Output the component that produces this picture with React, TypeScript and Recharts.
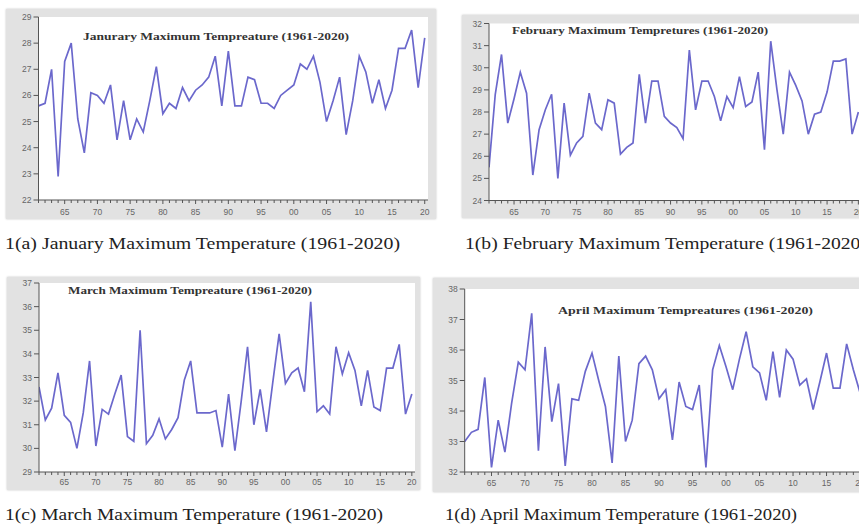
import { CartesianGrid, Line, LineChart, ReferenceArea, XAxis, YAxis } from "recharts";

// years 1961..2020 (x categories)
const YEARS = Array.from({ length: 60 }, (_, i) => 1961 + i);

// monthly maximum temperatures, 1961..2020
const JAN = [
  25.6, 25.7, 27.0, 22.9, 27.3, 28.0, 25.1, 23.8, 26.1, 26.0,
  25.7, 26.4, 24.3, 25.8, 24.3, 25.1, 24.6, 25.8, 27.1, 25.3,
  25.7, 25.5, 26.3, 25.8, 26.2, 26.4, 26.7, 27.5, 25.6, 27.7,
  25.6, 25.6, 26.7, 26.6, 25.7, 25.7, 25.5, 26.0, 26.2, 26.4,
  27.2, 27.0, 27.5, 26.5, 25.0, 25.8, 26.7, 24.5, 25.8, 27.5,
  26.9, 25.7, 26.6, 25.5, 26.2, 27.8, 27.8, 28.5, 26.3, 28.2,
];
const FEB = [
  25.5, 28.8, 30.6, 27.5, 28.6, 29.8, 28.85, 25.15, 27.2, 28.1,
  28.8, 25.0, 28.4, 26.05, 26.6, 26.9, 28.85, 27.5, 27.2, 28.55,
  28.4, 26.1, 26.4, 26.6, 29.7, 27.5, 29.4, 29.4, 27.8, 27.5,
  27.3, 26.8, 30.8, 28.1, 29.4, 29.4, 28.7, 27.6, 28.7, 28.2,
  29.6, 28.25, 28.45, 29.8, 26.3, 31.2, 29.0, 27.0, 29.8, 29.2,
  28.5, 27.0, 27.9, 28.0, 28.9, 30.3, 30.3, 30.4, 27.0, 28.0,
];
const MAR = [
  32.6, 31.2, 31.7, 33.2, 31.4, 31.1, 30.0, 31.5, 33.7, 30.1,
  31.65, 31.45, 32.3, 33.1, 30.5, 30.3, 35.0, 30.2, 30.55, 31.25,
  30.4, 30.8, 31.3, 32.9, 33.7, 31.5, 31.5, 31.5, 31.6, 30.05,
  32.3, 29.9, 32.0, 34.3, 31.0, 32.5, 30.7, 32.8, 34.85, 32.75,
  33.2, 33.4, 32.4, 36.2, 31.55, 31.8, 31.45, 34.3, 33.15, 34.05,
  33.3, 31.8, 33.3, 31.75, 31.6, 33.4, 33.4, 34.4, 31.45, 32.3,
];
const APR = [
  33.0, 33.3, 33.4, 35.1, 32.15, 33.7, 32.65, 34.25, 35.6, 35.35,
  37.2, 32.7, 36.1, 33.65, 34.9, 32.2, 34.4, 34.35, 35.3, 35.9,
  35.0, 34.15, 32.3, 35.8, 33.0, 33.7, 35.55, 35.8, 35.35, 34.4,
  34.7, 33.05, 34.95, 34.15, 34.05, 34.85, 32.15, 35.35, 36.15, 35.45,
  34.7, 35.7, 36.6, 35.45, 35.25, 34.35, 35.95, 34.45, 36.0, 35.7,
  34.85, 35.05, 34.05, 34.95, 35.9, 34.75, 34.75, 36.2, 35.35, 34.6,
];

const JAN_TICKS = [22, 23, 24, 25, 26, 27, 28, 29];
const FEB_TICKS = [24, 25, 26, 27, 28, 29, 30, 31, 32];
const MAR_TICKS = [29, 30, 31, 32, 33, 34, 35, 36, 37];
const APR_TICKS = [32, 33, 34, 35, 36, 37, 38];

const LINE = "#6b68cc";
const AXIS = "#555";
const LABEL = "#666";

function yearTick(labelDy: number) {
  return (props: any) => {
    const { x, y, payload } = props;
    const yr = payload.value as number;
    const major = yr % 5 === 0;
    return (
      <g>
        <line x1={x} x2={x} y1={y} y2={y + (major ? 4 : 3)} stroke={AXIS} strokeWidth={1} />
        {major && (
          <text x={x} y={y + labelDy} textAnchor="middle" fontSize={8.5} fill={LABEL} fontFamily="Liberation Sans">
            {String(yr % 100).padStart(2, "0")}
          </text>
        )}
      </g>
    );
  };
}

function Panel({
  values,
  yTicks,
  box,
  margin,
  xHeight,
  labelDy,
}: {
  values: number[];
  yTicks: number[];
  box: { left: number; top: number; width: number; height: number };
  margin: { top: number; right: number; bottom: number; left: number };
  xHeight: number;
  labelDy: number;
}) {
  const data = YEARS.map((year, i) => ({ year, v: values[i] }));
  return (
    <div style={{ position: "absolute", ...box }}>
      <LineChart width={box.width} height={box.height} data={data} margin={margin}>
        <CartesianGrid horizontal={false} vertical={false} fill="#fff" />
        <XAxis
          dataKey="year"
          type="number"
          domain={[1961, 2020.5]}
          ticks={YEARS}
          interval={0}
          allowDataOverflow
          height={xHeight}
          tickSize={0}
          tickMargin={0}
          tickLine={false}
          tick={yearTick(labelDy)}
          axisLine={{ stroke: AXIS }}
        />
        <YAxis
          type="number"
          domain={[yTicks[0], yTicks[yTicks.length - 1]]}
          ticks={yTicks}
          interval={0}
          width={28}
          tickSize={5}
          tickMargin={2}
          tick={{ fontSize: 8.5, fill: LABEL, fontFamily: "Liberation Sans" }}
          tickLine={{ stroke: AXIS }}
          axisLine={{ stroke: AXIS }}
        />
        <ReferenceArea fill="none" stroke="#8a8a8a" strokeWidth={1} />
        <Line
          type="linear"
          dataKey="v"
          stroke={LINE}
          strokeWidth={1.7}
          dot={false}
          isAnimationActive={false}
        />
      </LineChart>
    </div>
  );
}

const frame = (left: number, top: number, width: number, height: number) => (
  <div
    style={{
      position: "absolute",
      left,
      top,
      width,
      height,
      background: "#e2e2e2",
      boxShadow: "0 0 2px #c4c4c4",
    }}
  />
);

export default function App() {
  const serif = "Liberation Serif";
  return (
    <div
      style={{
        position: "absolute",
        left: 0,
        top: 0,
        width: 859,
        height: 524,
        overflow: "hidden",
        background: "#fff",
      }}
    >
      {frame(6, 9, 430, 210)}
      {frame(462, 15, 420, 203)}
      {frame(7, 277, 413, 213)}
      {frame(433, 278, 440, 214)}

      <Panel
        values={JAN}
        yTicks={JAN_TICKS}
        box={{ left: 6, top: 9, width: 430, height: 210 }}
        margin={{ top: 8, right: 8, bottom: 1, left: 4.5 }}
        xHeight={18}
        labelDy={15}
      />
      <Panel
        values={FEB}
        yTicks={FEB_TICKS}
        box={{ left: 462, top: 15, width: 420, height: 203 }}
        margin={{ top: 8.5, right: 20.5, bottom: 0.5, left: -1 }}
        xHeight={17}
        labelDy={14.5}
      />
      <Panel
        values={MAR}
        yTicks={MAR_TICKS}
        box={{ left: 7, top: 277, width: 413, height: 213 }}
        margin={{ top: 6, right: 5, bottom: 0, left: 4 }}
        xHeight={18}
        labelDy={13}
      />
      <Panel
        values={APR}
        yTicks={APR_TICKS}
        box={{ left: 433, top: 278, width: 440, height: 214 }}
        margin={{ top: 11, right: 9.6, bottom: 0, left: 3.7 }}
        xHeight={20}
        labelDy={14}
      />

      <svg
        width={859}
        height={524}
        style={{ position: "absolute", left: 0, top: 0, pointerEvents: "none" }}
      >
        <g fontFamily={serif} fontWeight="bold" fill="#333">
          <text x={83} y={40} fontSize={11} textLength={266} lengthAdjust="spacingAndGlyphs">
            Janurary Maximum Tempreature (1961-2020)
          </text>
          <text x={512} y={34} fontSize={10} textLength={256} lengthAdjust="spacingAndGlyphs">
            February Maximum Tempretures (1961-2020)
          </text>
          <text x={68} y={294} fontSize={10.5} textLength={244} lengthAdjust="spacingAndGlyphs">
            March Maximum Tempreature (1961-2020)
          </text>
          <text x={558} y={314} fontSize={10.5} textLength={255} lengthAdjust="spacingAndGlyphs">
            April Maximum Tempreatures (1961-2020)
          </text>
        </g>
        <g fontFamily={serif} fill="#222" fontSize={16}>
          <text x={5} y={249} textLength={395} lengthAdjust="spacingAndGlyphs">
            1(a) January Maximum Temperature (1961-2020)
          </text>
          <text x={465} y={249} textLength={402} lengthAdjust="spacingAndGlyphs">
            1(b) February Maximum Temperature (1961-2020)
          </text>
          <text x={5} y={520} textLength={378} lengthAdjust="spacingAndGlyphs">
            1(c) March Maximum Temperature (1961-2020)
          </text>
          <text x={445} y={520} textLength={352} lengthAdjust="spacingAndGlyphs">
            1(d) April Maximum Temperature (1961-2020)
          </text>
        </g>
      </svg>
    </div>
  );
}
